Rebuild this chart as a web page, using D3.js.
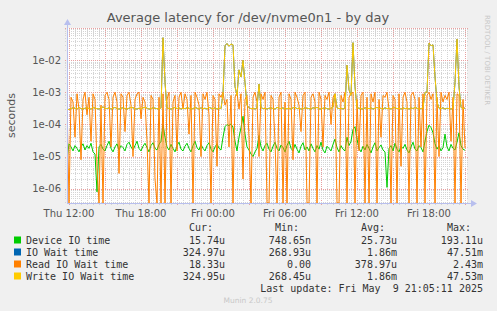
<!DOCTYPE html>
<html>
<head>
<meta charset="utf-8">
<script src="https://cdnjs.cloudflare.com/ajax/libs/d3/7.8.5/d3.min.js"></script>
<style>
body { margin: 0; background: #f0f0f0; }
svg { display: block; }
</style>
</head>
<body>
<svg id="chart" width="497" height="311"></svg>
<script>
// samples every 10 minutes starting Thu 11:50, values in microseconds
var START = new Date(2025, 4, 8, 11, 50);
var END = new Date(2025, 4, 9, 21, 10);
var STEP_MIN = 10;

var deviceIO = [
  8, 25, 20, 15, 22, 18, 14, 20, 25, 16,
  22, 18, 26, 14, 12, 0.8, 20, 24, 17, 15,
  22, 30, 18, 14, 20, 25, 16, 22, 19, 15,
  24, 28, 20, 16, 22, 30, 18, 15, 21, 26,
  19, 14, 22, 27, 18, 16, 24, 30, 100, 40,
  20, 16, 24, 18, 14, 22, 28, 17, 15, 21,
  26, 18, 14, 22, 30, 19, 16, 24, 18, 15,
  22, 27, 17, 14, 20, 25, 18, 16, 40, 85,
  100, 90, 105, 80, 30, 15, 40, 80, 180, 50,
  20, 16, 12, 10, 14, 18, 45, 20, 15, 22,
  26, 17, 14, 21, 28, 18, 15, 23, 19, 14,
  22, 30, 18, 15, 24, 17, 13, 21, 27, 16,
  20, 15, 25, 18, 14, 22, 17, 28, 16, 13,
  21, 18, 15, 24, 35, 19, 14, 22, 17, 15,
  40, 22, 30, 70, 85, 35, 18, 14, 21, 16,
  24, 18, 13, 20, 27, 15, 19, 23, 16, 14,
  1.1, 18, 22, 15, 26, 17, 14, 21, 18, 24,
  16, 13, 20, 28, 17, 15, 22, 19, 14, 30,
  60, 95, 80, 55, 25, 17, 22, 15, 19, 50,
  20, 15, 24, 18, 16, 28, 55, 22, 17, 15.7
];

var ioWait = [
  300, 290, 310, 330, 320, 300, 340, 310, 300, 320,
  330, 310, 300, 340, 320, 310, 300, 330, 350, 320,
  310, 330, 300, 320, 340, 310, 300, 320, 330, 310,
  300, 320, 340, 330, 310, 300, 320, 310, 330, 340,
  320, 300, 310, 330, 320, 310, 300, 320, 50000, 2000,
  330, 310, 300, 320, 340, 310, 330, 300, 320, 310,
  330, 320, 300, 310, 340, 320, 300, 330, 310, 320,
  300, 340, 320, 310, 330, 300, 320, 310, 900, 28000,
  33000, 27000, 32000, 30000, 1500, 800, 5000, 3000, 10000, 2000,
  400, 330, 310, 320, 300, 330, 1800, 340, 310, 320,
  300, 320, 330, 310, 300, 340, 320, 310, 330, 300,
  310, 320, 300, 330, 340, 310, 320, 300, 310, 330,
  320, 310, 300, 330, 320, 340, 310, 300, 320, 330,
  310, 300, 320, 340, 900, 330, 310, 320, 300, 330,
  7000, 1200, 800, 35000, 1500, 330, 320, 310, 300, 330,
  320, 310, 330, 300, 320, 340, 310, 320, 300, 330,
  310, 320, 300, 340, 330, 310, 320, 300, 330, 310,
  320, 300, 330, 310, 340, 320, 300, 310, 330, 1000,
  1000, 34000, 28000, 30000, 3000, 500, 320, 310, 330, 300,
  320, 310, 300, 330, 2000, 45000, 1500, 340, 310, 325
];

var readWait = [
  600, 0, 700, 500, 40, 900, 300, 8, 600, 1000,
  200, 700, 30, 900, 600, 5, 0, 400, 0, 800,
  1000, 600, 20, 700, 1000, 500, 3, 900, 700, 60,
  800, 1000, 400, 10, 600, 900, 1000, 150, 700, 500,
  30, 0, 800, 600, 2, 0, 700, 0, 900, 0,
  600, 1000, 0, 500, 800, 15, 700, 1000, 300, 900,
  600, 50, 800, 0, 1000, 700, 400, 10, 900, 600,
  1000, 200, 0, 800, 600, 5, 900, 700, 1000, 400,
  600, 20, 800, 0, 700, 1000, 300, 900, 2, 600,
  800, 40, 0, 700, 1000, 500, 10, 900, 600, 1000,
  0, 0, 800, 600, 30, 0, 700, 1000, 0, 500,
  0, 900, 600, 8, 1000, 700, 400, 60, 800, 1000,
  0, 0, 700, 900, 500, 0, 1000, 600, 20, 800,
  600, 1000, 100, 700, 900, 0, 0, 800, 500, 1000,
  0, 700, 900, 1000, 0, 600, 15, 800, 1000, 0,
  700, 0, 900, 500, 1000, 0, 600, 40, 800, 700,
  1000, 300, 0, 800, 600, 0, 900, 5, 700, 1000,
  500, 0, 800, 1000, 600, 0, 700, 20, 900, 0,
  800, 1000, 600, 900, 0, 700, 10, 1000, 500, 800,
  600, 1000, 30, 700, 0, 900, 800, 0, 600, 18.3
];

var writeWait = [
  300, 290, 310, 330, 320, 300, 340, 310, 300, 320,
  330, 310, 300, 340, 320, 310, 300, 330, 350, 320,
  310, 330, 300, 320, 340, 310, 300, 320, 330, 310,
  300, 320, 340, 330, 310, 300, 320, 310, 330, 340,
  320, 300, 310, 330, 320, 310, 300, 320, 50000, 2000,
  330, 310, 300, 320, 340, 310, 330, 300, 320, 310,
  330, 320, 300, 310, 340, 320, 300, 330, 310, 320,
  300, 340, 320, 310, 330, 300, 320, 310, 900, 28000,
  33000, 27000, 32000, 30000, 1500, 800, 5000, 3000, 10000, 2000,
  400, 330, 310, 320, 300, 330, 1800, 340, 310, 320,
  300, 320, 330, 310, 300, 340, 320, 310, 330, 300,
  310, 320, 300, 330, 340, 310, 320, 300, 310, 330,
  320, 310, 300, 330, 320, 340, 310, 300, 320, 330,
  310, 300, 320, 340, 900, 330, 310, 320, 300, 330,
  7000, 1200, 800, 35000, 1500, 330, 320, 310, 300, 330,
  320, 310, 330, 300, 320, 340, 310, 320, 300, 330,
  310, 320, 300, 340, 330, 310, 320, 300, 330, 310,
  320, 300, 330, 310, 340, 320, 300, 310, 330, 1000,
  1000, 34000, 28000, 30000, 3000, 500, 320, 310, 330, 300,
  320, 310, 300, 330, 2000, 45000, 1500, 340, 310, 325
];

var seriesNames = ["Device IO time", "IO Wait time", "Read IO Wait time", "Write IO Wait time"];
var seriesColors = ["#00cc00", "#0066b3", "#ff8000", "#ffcc00"];
var curVals = ["15.74u", "324.97u", "18.33u", "324.95u"];
var minVals = ["748.65n", "268.93u", "0.00", "268.45u"];
var avgVals = ["25.73u", "1.86m", "378.97u", "1.86m"];
var maxVals = ["193.11u", "47.51m", "2.43m", "47.53m"];

var xTickLabels = ["Thu 12:00", "Thu 18:00", "Fri 00:00", "Fri 06:00", "Fri 12:00", "Fri 18:00"];
var yTickLabels = ["1e-02", "1e-03", "1e-04", "1e-05", "1e-06"];

var PLOT_L = 67, PLOT_R = 467, PLOT_T = 28, PLOT_B = 203;
var Y_MIN = 3.6e-7, Y_MAX = 0.1;
var TEXT_COLOR = "#555555";

var svg = d3.select("#chart");

var x = d3.scaleTime().domain([START, END]).range([PLOT_L, PLOT_R]);
var y = d3.scaleLog().domain([Y_MIN, Y_MAX]).range([PLOT_B, PLOT_T]);

svg.append("rect")
    .attr("x", PLOT_L).attr("y", PLOT_T)
    .attr("width", PLOT_R - PLOT_L).attr("height", PLOT_B - PLOT_T)
    .attr("fill", "#ffffff");

// grid
var grid = svg.append("g").attr("shape-rendering", "crispEdges");
var halfHours = d3.timeMinute.every(30).range(START, END);
halfHours.forEach(function(t) {
    var major = t.getMinutes() == 0 && t.getHours() % 3 == 0;
    var xx = Math.round(x(t)) + 0.5;
    grid.append("line")
        .attr("x1", xx).attr("x2", xx)
        .attr("y1", PLOT_T).attr("y2", PLOT_B + (major ? 3 : 2))
        .attr("stroke", major ? "#e8a0a0" : "#d4d4d4")
        .attr("stroke-dasharray", major ? "1,1" : "1,1");
});
for (var e = -7; e <= -1; e++) {
    for (var m = 1; m <= 9; m++) {
        var v = m * Math.pow(10, e);
        if (v < Y_MIN || v > Y_MAX) continue;
        var yy = Math.round(y(v)) + 0.5;
        grid.append("line")
            .attr("x1", PLOT_L - 2).attr("x2", PLOT_R + 2)
            .attr("y1", yy).attr("y2", yy)
            .attr("stroke", m == 1 ? "#e8a0a0" : "#d4d4d4")
            .attr("stroke-dasharray", "1,1");
    }
}

// data lines
svg.append("clipPath").attr("id", "plotclip")
    .append("rect")
    .attr("x", PLOT_L).attr("y", PLOT_T)
    .attr("width", PLOT_R - PLOT_L + 1).attr("height", PLOT_B - PLOT_T);

var line = d3.line()
    .x(function(d, i) { return x(d3.timeMinute.offset(START, i * STEP_MIN)); })
    .y(function(d) { return y(Math.max(d * 1e-6, Y_MIN)); });

var g_lines = svg.append("g").attr("clip-path", "url(#plotclip)");
[deviceIO, ioWait, readWait, writeWait].forEach(function(arr, k) {
    g_lines.append("path")
        .datum(arr)
        .attr("d", line)
        .attr("fill", "none")
        .attr("stroke", seriesColors[k])
        .attr("stroke-width", 1);
});

// axes
var AXIS_COLOR = "#b8bfee";
svg.append("line")
    .attr("x1", PLOT_L + 0.5).attr("x2", PLOT_L + 0.5)
    .attr("y1", PLOT_B).attr("y2", PLOT_T - 4)
    .attr("stroke", AXIS_COLOR);
svg.append("line")
    .attr("x1", PLOT_L).attr("x2", PLOT_R + 5)
    .attr("y1", PLOT_B + 0.5).attr("y2", PLOT_B + 0.5)
    .attr("stroke", AXIS_COLOR);
svg.append("path")
    .attr("d", "M" + (PLOT_L - 3) + "," + (PLOT_T - 3) + " L" + (PLOT_L + 0.5) + "," + (PLOT_T - 9) + " L" + (PLOT_L + 4) + "," + (PLOT_T - 3) + "Z")
    .attr("fill", AXIS_COLOR);
svg.append("path")
    .attr("d", "M" + (PLOT_R + 4) + "," + (PLOT_B - 3) + " L" + (PLOT_R + 10) + "," + (PLOT_B + 0.5) + " L" + (PLOT_R + 4) + "," + (PLOT_B + 4) + "Z")
    .attr("fill", AXIS_COLOR);

// tick labels
var xTicks = d3.timeHour.every(6).range(START, END);
svg.selectAll("text.xtick")
    .data(xTicks)
    .enter().append("text")
    .attr("class", "xtick")
    .attr("x", function(d) { return x(d); })
    .attr("y", 217)
    .attr("text-anchor", "middle")
    .style("font-family", "DejaVu Sans")
    .style("font-size", "10px")
    .style("fill", TEXT_COLOR)
    .text(function(d, i) { return xTickLabels[i]; });

svg.selectAll("text.ytick")
    .data(yTickLabels)
    .enter().append("text")
    .attr("class", "ytick")
    .attr("x", 61)
    .attr("y", function(d, i) { return y(Math.pow(10, -2 - i)) + 3.5; })
    .attr("text-anchor", "end")
    .style("font-family", "DejaVu Sans")
    .style("font-size", "10px")
    .style("fill", TEXT_COLOR)
    .text(function(d) { return d; });

svg.append("text")
    .attr("transform", "translate(15," + ((PLOT_T + PLOT_B) / 2) + ") rotate(-90)")
    .attr("text-anchor", "middle")
    .style("font-family", "DejaVu Sans")
    .style("font-size", "11px")
    .style("fill", TEXT_COLOR)
    .text("seconds");

svg.append("text")
    .attr("x", 248).attr("y", 22)
    .attr("text-anchor", "middle")
    .style("font-family", "DejaVu Sans")
    .style("font-size", "13px")
    .style("fill", TEXT_COLOR)
    .text("Average latency for /dev/nvme0n1 - by day");

svg.append("text")
    .attr("transform", "translate(485,15) rotate(90)")
    .style("font-family", "DejaVu Sans")
    .style("font-size", "7px")
    .style("fill", "#c8c8c8")
    .text("RRDTOOL / TOBI OETIKER");

// legend
var mono = "DejaVu Sans Mono";
var colRight = [225, 311, 397, 483];
var headers = ["Cur:", "Min:", "Avg:", "Max:"];
var g_leg = svg.append("g")
    .style("font-family", mono)
    .style("font-size", "10px")
    .style("fill", "#333333");

headers.forEach(function(h, c) {
    g_leg.append("text")
        .attr("x", colRight[c] - 12).attr("y", 231)
        .attr("text-anchor", "end")
        .text(h);
});

var cols = [curVals, minVals, avgVals, maxVals];
seriesNames.forEach(function(name, r) {
    var yy = 243.5 + r * 12;
    g_leg.append("rect")
        .attr("x", 14).attr("y", yy - 7)
        .attr("width", 7).attr("height", 7)
        .attr("fill", seriesColors[r]);
    g_leg.append("text")
        .attr("x", 26).attr("y", yy)
        .text(name);
    cols.forEach(function(arr, c) {
        g_leg.append("text")
            .attr("x", colRight[c]).attr("y", yy)
            .attr("text-anchor", "end")
            .text(arr[r]);
    });
});

g_leg.append("text")
    .attr("x", 483).attr("y", 291.5)
    .attr("text-anchor", "end")
    .style("white-space", "pre")
    .attr("xml:space", "preserve")
    .text("Last update: Fri May  9 21:05:11 2025");

svg.append("text")
    .attr("x", 248).attr("y", 303)
    .attr("text-anchor", "middle")
    .style("font-family", "DejaVu Sans")
    .style("font-size", "7.5px")
    .style("fill", "#c8c8c8")
    .text("Munin 2.0.75");
</script>
</body>
</html>
